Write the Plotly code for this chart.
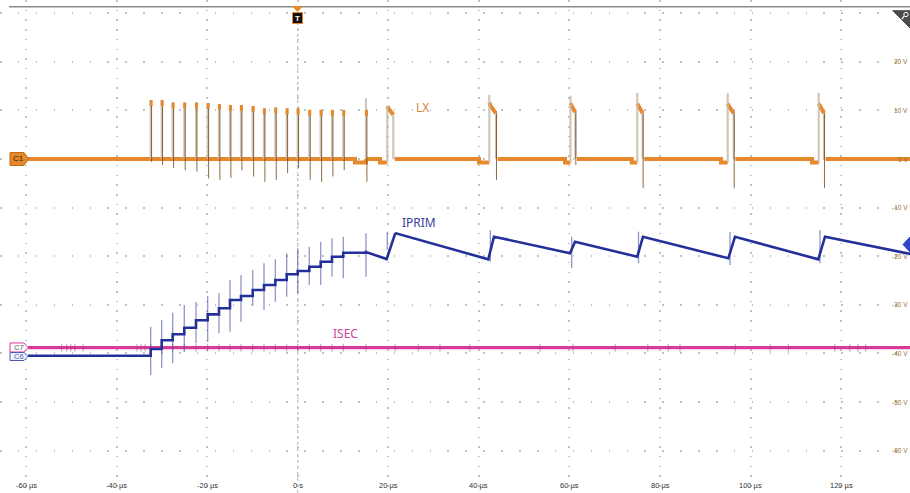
import plotly.graph_objects as go

# ------------------------------------------------------------------
# Values read from the oscilloscope capture
# time in microseconds, amplitude in display volts (C1 grid, 10 V/div)
# ------------------------------------------------------------------
x_tick_vals = [-60, -40, -20, 0, 20, 40, 60, 80, 100, 120]
x_tick_text = ["-60 µs", "-40 µs", "-20 µs", "0 s", "20 µs", "40 µs",
               "60 µs", "80 µs", "100 µs", "120 µs"]
y_tick_vals = [20, 10, 0, -10, -20, -30, -40, -50, -60]
y_tick_text = ["20 V", "10 V", "0 V", "-10 V", "-20 V", "-30 V", "-40 V", "-50 V", "-60 V"]

trace_start = -59.56
trace_end = 135.3

# LX (C1): narrow switching pulses during soft start
burst_t = [-32.47, -30.04, -27.61, -25.05, -22.46, -19.88, -17.39, -14.96, -12.53, -9.94,
           -7.45, -4.95, -2.44, -0.01, 2.55, 5.07, 7.56, 10.06, 15.07]
burst_top = [12.1, 12.1, 11.6, 11.6, 11.6, 11.5, 11.3, 11.1, 11.1, 10.9,
             10.4, 10.6, 10.4, 10.4, 10.1, 10.1, 10.1, 10.1, 12.5]
burst_blob = [12.1, 12.1, 11.6, 11.6, 11.6, 11.5, 11.3, 11.1, 11.1, 10.9,
              10.4, 10.6, 10.4, 10.4, 10.1, 10.1, 10.1, 10.1, 10.1]
burst_neg = [-0.6, -1.2, -1.9, -2.3, -2.6, -4.0, -4.3, -3.9, -2.3, -3.6,
             -4.7, -4.3, -2.9, -1.9, -4.3, -4.7, -3.6, -2.3, -4.7]

# LX: wider pulses after the ramp
plat_rise = [19.77, 42.30, 60.22, 74.97, 94.94, 115.03]
plat_fall = [21.10, 43.78, 61.30, 76.16, 96.27, 116.20]
plat_peak = [10.9, 11.6, 11.5, 11.4, 11.4, 11.4]
plat_start = [10.4, 11.0, 10.9, 10.9, 10.9, 10.9]
plat_end = [9.1, 9.4, 9.6, 9.4, 9.4, 9.4]
plat_edge_top = [10.9, 13.2, 13.0, 13.6, 13.6, 13.6]
plat_neg = [0.0, -4.3, -1.2, -6.0, -6.0, -6.0]

# LX: small baseline dips just before switching
dip_t0 = [12.64, 18.16, 40.02, 59.01, 73.74, 93.46, 113.55]
dip_t1 = [15.07, 19.77, 42.30, 60.22, 74.97, 94.94, 115.03]
dip_level = -0.7
lx_level = 0.0

# IPRIM (C6)
iprim_start = -40.47
iprim_step_v = [-39.09, -37.30, -36.07, -34.71, -33.19, -31.96, -30.72, -29.01, -28.19, -26.95,
                -25.93, -24.90, -23.72, -23.05, -22.16, -21.13, -20.10, -19.28, -19.14]
iprim_saw_t = [19.64, 21.47, 21.70, 42.07, 43.33, 60.12, 61.22, 74.97, 76.23, 95.07,
               96.55, 114.94, 116.42, 135.3]
iprim_saw_v = [-20.58, -15.43, -15.29, -20.64, -15.99, -19.40, -17.02, -20.10, -15.99, -20.43,
               -15.99, -20.64, -15.99, -19.55]
iprim_spike_t = burst_t + [19.77, 42.52, 60.49, 75.24, 95.44, 115.31]
iprim_spike_hi = [-34.51, -33.13, -31.63, -30.04, -29.36, -28.19, -27.51, -24.90, -23.87, -22.84,
                  -21.46, -20.64, -19.40, -18.37, -18.05, -17.02, -16.32, -15.99, -15.29,
                  -14.96, -14.61, -15.99, -14.96, -14.96, -14.61]
iprim_spike_lo = [-44.44, -43.01, -42.04, -39.65, -37.92, -37.59, -35.86, -35.53, -33.48, -30.20,
                  -31.07, -29.36, -28.33, -27.63, -25.93, -25.93, -24.22, -24.55, -24.22,
                  -18.72, -21.13, -22.43, -21.46, -21.81, -21.46]

# ISEC (C7)
isec_level = -38.83
isec_tick_t = [-52.1, -51.0, -50.1, -49.2, -47.4, -35.5, -34.6, -33.7] + burst_t + \
              [21.5, 26.6, 31.4, 38.0, 53.5, 60.8, 70.1, 77.3, 81.8, 84.4, 96.6, 104.3,
               108.3, 118.6, 121.9, 123.7, 125.4]

# ------------------------------------------------------------------
# Styling / layout
# ------------------------------------------------------------------
W, H = 910, 493
PX_PER_US = 4.529
PX_PER_V = 4.86
X_MIN = -60 - 26 / PX_PER_US
X_MAX = X_MIN + W / PX_PER_US
Y_MAX = 159 / PX_PER_V
Y_MIN = Y_MAX - H / PX_PER_V

ORANGE = "#E6892C"
EDGE_LIGHT = "rgba(200,188,170,0.85)"
EDGE_DARK = "rgba(110,70,20,0.8)"
BLUE = "#24309A"
BLUE_SPIKE = "rgba(70,80,160,0.6)"
MAGENTA = "#DA3A98"


def PX(p):
    return p / W


def PY(p):
    return 1 - p / H


fig = go.Figure()


def add_line(xs, ys, color, width):
    fig.add_trace(go.Scatter(x=xs, y=ys, mode="lines", line=dict(color=color, width=width),
                             hoverinfo="skip", showlegend=False))


# ---- ISEC ----
add_line([trace_start, trace_end], [isec_level, isec_level], MAGENTA, 3.2)
tx, ty = [], []
for t in isec_tick_t:
    tx += [t, t, None]
    ty += [isec_level - 0.8, isec_level + 0.8, None]
add_line(tx, ty, "rgba(150,60,120,0.55)", 1)

# ---- IPRIM ----
sx, sy = [], []
for t, hi, lo in zip(iprim_spike_t, iprim_spike_hi, iprim_spike_lo):
    sx += [t, t, None]
    sy += [lo, hi, None]
add_line(sx, sy, BLUE_SPIKE, 1.3)

ix, iy = [trace_start], [iprim_start]
for t, v in zip(burst_t, iprim_step_v):
    ix += [t, t]
    iy += [iy[-1], v]
ix += iprim_saw_t
iy += iprim_saw_v
add_line(ix, iy, BLUE, 2.6)

# ---- LX baseline (thick) ----
lx_x, lx_y = [], []


def seg(points):
    for a, b in points:
        lx_x.append(a)
        lx_y.append(b)
    lx_x.append(None)
    lx_y.append(None)


cur = trace_start
for d0, d1 in zip(dip_t0, dip_t1):
    pts = [(cur, lx_level), (d0, lx_level), (d0, dip_level), (d1, dip_level)]
    if d1 in plat_rise:
        seg(pts)
        i = plat_rise.index(d1)
        seg([(d1, plat_peak[i]), (d1 + 0.25, plat_start[i]), (plat_fall[i], plat_end[i])])
        cur = plat_fall[i] + 0.35
    else:
        pts.append((d1, lx_level))
        seg(pts)
        cur = d1
seg([(cur, lx_level), (trace_end, lx_level)])
add_line(lx_x, lx_y, ORANGE, 4)

# narrow pulse edges
lx_, ly_ = [], []
dx_, dy_ = [], []
bx_, by_ = [], []
for t, top, blob, neg in zip(burst_t, burst_top, burst_blob, burst_neg):
    lx_ += [t, t, None]
    ly_ += [lx_level, top, None]
    dx_ += [t + 0.2, t + 0.2, None]
    dy_ += [blob, neg, None]
    bx_ += [t + 0.1, t + 0.1, None]
    by_ += [blob - 1.2, blob, None]
# wide pulse edges
for r, f, et, pe, ng in zip(plat_rise, plat_fall, plat_edge_top, plat_end, plat_neg):
    lx_ += [r, r, None, f, f, None]
    ly_ += [dip_level, et, None, pe, lx_level, None]
    if ng < 0:
        dx_ += [f + 0.1, f + 0.1, None]
        dy_ += [pe, ng, None]
add_line(lx_, ly_, EDGE_LIGHT, 2.2)
add_line(dx_, dy_, EDGE_DARK, 1)
add_line(bx_, by_, ORANGE, 3)

# ------------------------------------------------------------------
shapes = []
# trigger position line
shapes.append(dict(type="line", xref="x", yref="y", x0=0, x1=0, y0=Y_MIN,
                   y1=(159 - 24) / PX_PER_V, line=dict(color="#b0b0b0", width=1, dash="3px,3px"),
                   layer="below"))
# top border
shapes.append(dict(type="line", xref="paper", yref="paper", x0=PX(9), x1=1, y0=PY(6.7), y1=PY(6.7),
                   line=dict(color="#8c8c8c", width=1.5)))


def poly(pts, fill, line_color, lw=1):
    path = "M " + " L ".join(f"{PX(a):.5f},{PY(b):.5f}" for a, b in pts) + " Z"
    shapes.append(dict(type="path", xref="paper", yref="paper", path=path,
                       fillcolor=fill, line=dict(color=line_color, width=lw)))


# channel badges
poly([(10, 152.5), (24, 152.5), (28.5, 159), (24, 165.5), (10, 165.5)], ORANGE, "#C26A12")
poly([(10, 343), (24, 343), (28, 347.5), (24, 352), (10, 352)], "white", MAGENTA)
poly([(10, 352.5), (24, 352.5), (28, 356.5), (24, 360.5), (10, 360.5)], "#f0f2ff", "#4a58b8")
# trigger marker
poly([(293, 6.5), (302, 6.5), (297.5, 11.5)], ORANGE, ORANGE)
poly([(292.5, 12.5), (302.5, 12.5), (302.5, 23.5), (292.5, 23.5)], "#111111", ORANGE)
# zoom corner icon
poly([(892.7, 10.7), (910, 10.7), (910, 28)], "#4d4d4d", "#4d4d4d")
shapes.append(dict(type="circle", xref="paper", yref="paper", x0=PX(903.8), x1=PX(908.2),
                   y0=PY(12.3), y1=PY(16.7), line=dict(color="white", width=1)))
shapes.append(dict(type="line", xref="paper", yref="paper", x0=PX(904.3), x1=PX(901.8),
                   y0=PY(16.2), y1=PY(19.2), line=dict(color="white", width=1.2)))

annotations = []


def txt(x, y, s, size, color, xref="paper", yref="paper", xanchor="center", family="Liberation Sans"):
    annotations.append(dict(x=x, y=y, xref=xref, yref=yref, text=s, showarrow=False,
                            xanchor=xanchor, yanchor="middle",
                            font=dict(size=size, color=color, family=family)))


for v, s in zip(x_tick_vals, x_tick_text):
    txt(v, PY(485), s, 7.5, "#333333", xref="x")
for v, s in zip(y_tick_vals, y_tick_text):
    txt(PX(909.5), v, s, 6.5, "#9a6a30", yref="y", xanchor="right")

txt(PX(18.5), PY(159), "C1", 8, "#2a1a00")
txt(PX(18.5), PY(347.5), "C7", 7.5, "#555555")
txt(PX(18.5), PY(356.6), "C6", 7.5, "#4a5ab0")
txt(PX(297.5), PY(18), "<b>T</b>", 8, "white")

txt(PX(422.5), PY(107.5), "LX", 12, "#D3893A", family="Noto Sans")
txt(PX(418.5), PY(222.5), "IPRIM", 12, "#3A3E9E", family="Noto Sans")
txt(PX(345), PY(333), "ISEC", 12, "#C84799", family="Noto Sans")

# blue channel offset arrow at right edge
poly([(910, 237), (903, 244.5), (910, 252)], "#2E44C8", "#2E44C8")

fig.update_layout(
    width=W, height=H,
    margin=dict(l=0, r=0, t=0, b=0, pad=0),
    paper_bgcolor="white", plot_bgcolor="white",
    showlegend=False,
    xaxis=dict(range=[X_MIN, X_MAX], tickmode="linear", tick0=-60, dtick=20,
               showgrid=True, gridcolor="#c2c2c2", gridwidth=1.5, griddash="1.5px,8.2px",
               showticklabels=False, zeroline=False, showline=False, ticks=""),
    yaxis=dict(range=[Y_MIN, Y_MAX], tickmode="linear", tick0=0, dtick=10,
               showgrid=True, gridcolor="#c2c2c2", gridwidth=1.5, griddash="1.5px,16.4px",
               showticklabels=False, zeroline=False, showline=False, ticks=""),
    shapes=shapes,
    annotations=annotations,
)

fig.write_html("out.html", config={"displayModeBar": False},
               post_script="document.body.style.margin='0px';")
